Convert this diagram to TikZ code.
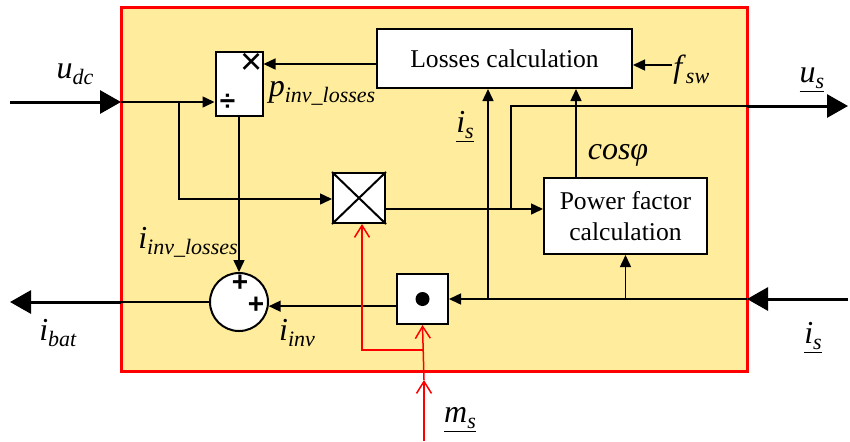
\documentclass[tikz,border=0pt]{standalone}
\usepackage{fontspec}
\setmainfont{Liberation Serif}
\newfontfamily\signfont{Liberation Sans}
\usepackage{xcolor}
\usepackage{tikz}
\usetikzlibrary{arrows.meta,calc,positioning}

\definecolor{panel}{RGB}{255,236,156}
\newcommand{\sym}[2]{\textit{#1}\raisebox{-0.4ex}{\fontsize{11}{12}\selectfont\textit{#2}}}

\tikzset{
  blk/.style={draw, fill=white, line width=1pt, inner sep=0pt},
  wire/.style={line width=0.75pt},
  sig/.style={line width=0.75pt, -{Triangle[length=6pt,width=5.5pt]}},
  bus/.style={line width=1.5pt, -{Triangle[length=10.5pt,width=11.5pt]}},
  ctl/.style={red, line width=0.75pt, -{Straight Barb[length=6pt,width=7.5pt]}},
  lbl/.style={font=\fontsize{16}{18}\selectfont, inner sep=0pt},
  txt/.style={font=\fontsize{12.8}{15.5}\selectfont, align=center},
  sgn/.style={font=\signfont\bfseries\fontsize{14}{14}\selectfont, inner sep=0pt},
}

\begin{document}
\begin{tikzpicture}[x=0.5pt, y=-0.5pt]
  \useasboundingbox (0,0) rectangle (850,441);
  \draw[red, line width=1.5pt, fill=panel] (121,7) rectangle (747,371);

  \node[blk, minimum width=23.5pt, minimum height=32pt] (divbox) at (239,84) {};
  \node[sgn, font=\signfont\fontsize{19}{19}\selectfont] (mulsign) at ([xshift=-6pt, yshift=-6.5pt]divbox.north east) {×};
  \node[sgn] (divsign) at ([xshift=6.5pt, yshift=7.5pt]divbox.south west) {÷};
  \node[blk, txt, minimum width=127.5pt, minimum height=29.5pt] (losses) at (504.5,58.5) {Losses calculation};
  \node[blk, txt, minimum width=81.5pt, minimum height=38pt] (pf) at (625.5,216) {Power factor\\calculation};
  \node[blk, minimum width=26pt, minimum height=25pt] (mult) at (359,198) {};
  \draw[line width=1pt] (mult.north west) -- (mult.south east) (mult.north east) -- (mult.south west);
  \node[blk, minimum width=25.5pt, minimum height=25pt] (dotbox) at (422.5,299) {};
  \fill (dotbox.center) circle (3.5pt);
  \node[blk, circle, minimum size=29pt] (sum) at (239,302) {};
  \node[sgn] (plusa) at (240,283) {+};
  \node[sgn] (plusb) at (256,305) {+};

  \coordinate (udcin) at (10,102);
  \coordinate (udcport) at (121,102);
  \coordinate (udctap) at (179,102);
  \coordinate (ibatout) at (10,302);
  \coordinate (ibatport) at (121,302);
  \coordinate (isin) at (848,299);
  \coordinate (isport) at (747,299);
  \coordinate (istap) at (488,299);
  \coordinate (usout) at (848,106);
  \coordinate (usport) at (747,106);
  \coordinate (ustap) at (511,209);
  \coordinate (fswin) at (672,65);
  \coordinate (msin) at (424,441);
  \coordinate (msmid) at (424,380);
  \coordinate (mstap) at (424,350);

  \draw[bus] (udcin) -- (udcport);
  \draw[sig] (udcport) -- (udcport -| divbox.west);
  \draw[sig] (udctap) |- ([yshift=-0.5pt]mult.west);
  \draw[sig] (losses.west |- mulsign) -- (divbox.east |- mulsign);
  \draw[sig] (divbox.south) -- (sum.north);
  \draw[wire] (sum.west) -- (ibatport);
  \draw[bus] (ibatport) -- (ibatout);
  \draw[sig] (dotbox.west |- sum.-8) -- (sum.-8);
  \draw[bus] (isin) -- (isport);
  \draw[sig] (isport) -- (dotbox.east);
  \draw[sig] (pf.south |- isport) -- (pf.south);
  \draw[sig] (istap) -- (istap |- losses.south);
  \draw[sig] (mult.east |- ustap) -- (pf.west |- ustap);
  \draw[wire] (ustap) |- (usport);
  \draw[bus] (usport) -- (usout);
  \draw[sig] ([xshift=-24.75pt]pf.north) -- ([xshift=-24.75pt]pf.north |- losses.south);
  \draw[sig] (fswin) -- (losses.east |- fswin);

  \draw[ctl] (msin) -- (msmid);
  \draw[ctl] (msmid) -- (dotbox.south);
  \draw[ctl] (mstap) -| ([xshift=1.5pt]mult.south);

  \node[lbl, anchor=west] (fsw) at (673,70) {\sym{f}{sw}};
  \node[lbl] (udc) at (75,74) {\sym{u}{dc}};
  \node[lbl] (ibat) at (58,333) {\sym{i}{bat}};
  \node[lbl] (pinv) at (322,93) {\sym{p}{inv\_losses}};
  \node[lbl] (us) at (812,80) {\underline{\sym{u}{s}}};
  \node[lbl] (isa) at (465,127) {\underline{\sym{i}{s}}};
  \node[lbl] (cosphi) at (618,155) {\textit{cosφ}};
  \node[lbl] (iinvl) at (188,242) {\sym{i}{inv\_losses}};
  \node[lbl] (iinv) at (297,333) {\sym{i}{inv}};
  \node[lbl] (isb) at (813,338) {\underline{\sym{i}{s}}};
  \node[lbl] (ms) at (460,420) {\underline{\sym{m}{s}}};
\end{tikzpicture}
\end{document}
